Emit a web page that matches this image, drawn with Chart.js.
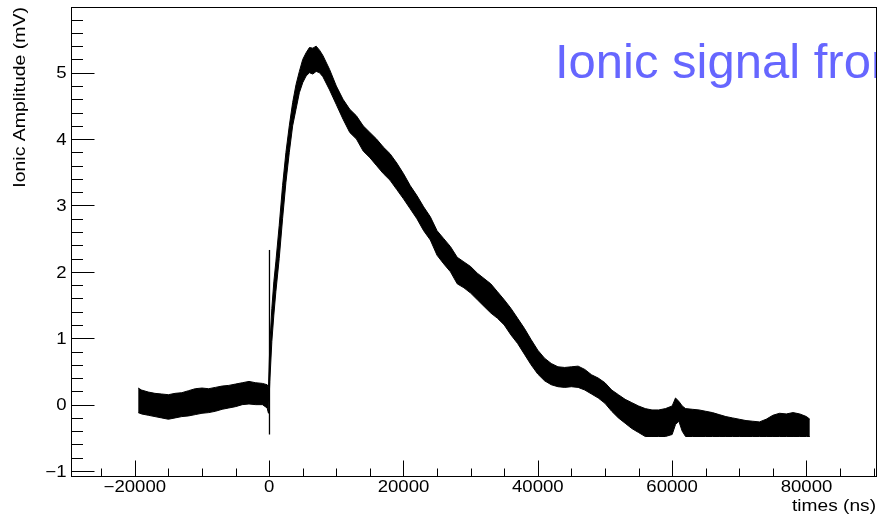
<!DOCTYPE html>
<html>
<head>
<meta charset="utf-8">
<script src="https://cdn.jsdelivr.net/npm/chart.js@4.4.1/dist/chart.umd.min.js"></script>
<style>
  html, body { margin: 0; padding: 0; background: #ffffff; }
  #wrap { width: 880px; height: 520px; }
</style>
</head>
<body>
<div id="wrap"><canvas id="c" width="880" height="520"></canvas></div>
<script>
// ---- data (time in ns, amplitude in mV) ----
const times = [
  -19500, -19000, -18000, -17000, -16000, -15000, -14000, -13000, -12000, -11000,
  -10000, -9000, -8000, -7000, -6000, -5000, -4000, -3000, -2000, -1000, -300, -100,
  100, 400, 700, 1000, 1500, 2000, 2500, 3000, 3500, 4000, 4500, 5000, 5500, 6000,
  6500, 7000, 7500, 8000, 9000, 10000, 11000, 12000, 13000, 14000, 15000, 16000,
  17000, 18000, 19000, 20000, 21000, 22000, 23000, 24000, 25000, 26000, 27000, 28000,
  29000, 30000, 31000, 32000, 33000, 34000, 35000, 36000, 37000, 38000, 39000, 40000,
  41000, 42000, 43000, 44000, 45000, 46000, 47000, 48000, 49000, 50000, 51000, 52000,
  53000, 54000, 55000, 56000, 57000, 58000, 59000, 60000, 60500, 61000, 61500, 62000,
  63000, 64000, 65000, 66000, 67000, 68000, 69000, 70000, 71000, 72000, 73000, 74000,
  75000, 76000, 77000, 78000, 79000, 80000, 80500
];
const upperEnvelope = [
  0.25, 0.22, 0.19, 0.17, 0.16, 0.15, 0.17, 0.18, 0.21, 0.24,
  0.25, 0.24, 0.26, 0.28, 0.29, 0.31, 0.33, 0.35, 0.33, 0.32, 0.30, 0.26,
  0.90, 1.45, 1.85, 2.15, 2.70, 3.30, 3.80, 4.20, 4.55, 4.82, 5.02, 5.20, 5.30, 5.38,
  5.37, 5.40, 5.34, 5.26, 5.05, 4.80, 4.60, 4.45, 4.35, 4.20, 4.10, 4.00,
  3.88, 3.78, 3.64, 3.48, 3.30, 3.15, 2.98, 2.83, 2.62, 2.50, 2.38, 2.22,
  2.15, 2.08, 1.98, 1.90, 1.82, 1.70, 1.58, 1.45, 1.30, 1.15, 0.98, 0.82,
  0.70, 0.62, 0.57, 0.56, 0.57, 0.58, 0.53, 0.45, 0.40, 0.33, 0.22, 0.15,
  0.08, 0.03, -0.02, -0.06, -0.08, -0.08, -0.06, -0.02, 0.10, 0.05, -0.02, -0.06,
  -0.07, -0.08, -0.10, -0.12, -0.15, -0.18, -0.20, -0.22, -0.24, -0.25, -0.26, -0.22,
  -0.16, -0.13, -0.14, -0.12, -0.14, -0.18, -0.22
];
const lowerEnvelope = [
  -0.12, -0.14, -0.16, -0.18, -0.20, -0.22, -0.20, -0.18, -0.17, -0.15,
  -0.13, -0.12, -0.10, -0.07, -0.05, -0.03, 0.00, 0.01, 0.00, 0.00, -0.05, -0.13,
  0.35, 0.95, 1.35, 1.70, 2.20, 2.80, 3.35, 3.80, 4.20, 4.45, 4.70, 4.85, 4.95, 5.00,
  4.98, 5.02, 5.00, 4.94, 4.74, 4.52, 4.30, 4.10, 4.00, 3.82, 3.72, 3.60,
  3.48, 3.38, 3.24, 3.10, 2.95, 2.80, 2.62, 2.48, 2.25, 2.12, 2.00, 1.82,
  1.76, 1.68, 1.58, 1.48, 1.38, 1.30, 1.20, 1.05, 0.92, 0.76, 0.60, 0.46,
  0.36, 0.30, 0.27, 0.26, 0.27, 0.26, 0.22, 0.16, 0.10, 0.02, -0.10, -0.20,
  -0.28, -0.36, -0.42, -0.48, -0.48, -0.48, -0.48, -0.45, -0.30, -0.25, -0.40, -0.48,
  -0.48, -0.48, -0.48, -0.48, -0.48, -0.48, -0.48, -0.48, -0.48, -0.48, -0.48, -0.48,
  -0.48, -0.48, -0.48, -0.48, -0.48, -0.48, -0.48
];
// trigger spike at t = 0
const spikeTimes = [50, 50];
const spikeValues = [-0.45, 2.33];

// axis ranges and tick labels
const xRange = [-29500, 90500];
const yRange = [-1.09, 5.99];
const xMajorTicks = [-20000, 0, 20000, 40000, 60000, 80000];
const yMajorTicks = [-1, 0, 1, 2, 3, 4, 5];
const xMinorStep = 5000;
const yMinorStep = 0.2;
const titleText = "Ionic signal from";
const xTitle = "times (ns)";
const yTitle = "Ionic Amplitude (mV)";

const fmt = v => (v < 0 ? "\u2212" + Math.abs(v) : String(v));

const rootStyle = {
  id: 'rootStyle',
  afterDraw(chart) {
    const ctx = chart.ctx;
    const a = chart.chartArea;
    const xs = chart.scales.x, ys = chart.scales.y;
    ctx.save();
    // frame
    ctx.strokeStyle = '#000';
    ctx.lineWidth = 1;
    ctx.strokeRect(Math.round(a.left) + 0.5, Math.round(a.top) + 0.5,
                   Math.round(a.right - a.left) - 1, Math.round(a.bottom - a.top) - 1);
    ctx.beginPath();
    // y minor/major ticks
    const L = Math.round(a.left) + 0.5;
    for (let v = -1; v <= yRange[1] + 1e-9; v += yMinorStep) {
      const vv = Math.round(v * 10) / 10;
      if (vv < yRange[0]) continue;
      const py = Math.round(ys.getPixelForValue(vv)) + 0.5;
      const major = Math.abs(vv - Math.round(vv)) < 1e-6;
      ctx.moveTo(L, py); ctx.lineTo(L + (major ? 23 : 11.5), py);
    }
    // x minor/major ticks
    const B = Math.round(a.bottom) - 0.5;
    for (let v = -25000; v <= xRange[1]; v += xMinorStep) {
      const px = Math.round(xs.getPixelForValue(v)) + 0.5;
      const major = xMajorTicks.includes(v);
      ctx.moveTo(px, B); ctx.lineTo(px, B - (major ? 16 : 8));
    }
    ctx.stroke();

    // tick labels
    ctx.fillStyle = '#000';
    ctx.font = '16px "Liberation Sans", Arial, sans-serif';
    const sx = 1.16;
    function sText(t, x, y, align) {
      ctx.save(); ctx.translate(x, y); ctx.scale(sx, 1);
      ctx.textAlign = align; ctx.textBaseline = 'alphabetic';
      ctx.fillText(t, 0, 0); ctx.restore();
    }
    yMajorTicks.forEach(v => sText(fmt(v), 66.5, ys.getPixelForValue(v) + 5.7, 'right'));
    xMajorTicks.forEach(v => sText(fmt(v), xs.getPixelForValue(v), 492.3, 'center'));
    // axis titles
    ctx.font = '16.5px "Liberation Sans", Arial, sans-serif';
    sText(xTitle, 876, 511, 'right');
    ctx.save();
    ctx.translate(25, 7);
    ctx.rotate(-Math.PI / 2);
    ctx.scale(1.18, 1);
    ctx.textAlign = 'right'; ctx.textBaseline = 'alphabetic';
    ctx.fillText(yTitle, 0, 0);
    ctx.restore();

    // title, clipped at frame
    ctx.save();
    ctx.beginPath();
    ctx.rect(0, 0, Math.round(a.right) - 1, 520);
    ctx.clip();
    ctx.fillStyle = 'rgb(102,102,255)';
    ctx.font = '49px "Liberation Sans", Arial, sans-serif';
    ctx.textAlign = 'left'; ctx.textBaseline = 'alphabetic';
    ctx.fillText(titleText, 555, 78);
    ctx.restore();
    ctx.restore();
  }
};

new Chart(document.getElementById('c'), {
  type: 'line',
  data: {
    datasets: [
      {
        label: 'upper',
        data: times.map((t, i) => ({ x: t, y: upperEnvelope[i] })),
        borderColor: '#000', backgroundColor: '#000', borderWidth: 1,
        pointRadius: 0, tension: 0, fill: '+1'
      },
      {
        label: 'lower',
        data: times.map((t, i) => ({ x: t, y: lowerEnvelope[i] })),
        borderColor: '#000', backgroundColor: '#000', borderWidth: 1,
        pointRadius: 0, tension: 0, fill: false
      },
      {
        label: 'spike',
        data: spikeTimes.map((t, i) => ({ x: t, y: spikeValues[i] })),
        borderColor: '#000', borderWidth: 1.3,
        pointRadius: 0, tension: 0, fill: false
      }
    ]
  },
  options: {
    responsive: false,
    animation: false,
    devicePixelRatio: 1,
    layout: { padding: { left: 71, top: 7, right: 3, bottom: 43 } },
    plugins: { legend: { display: false }, tooltip: { enabled: false }, title: { display: false } },
    scales: {
      x: { type: 'linear', min: xRange[0], max: xRange[1], display: false },
      y: { type: 'linear', min: yRange[0], max: yRange[1], display: false }
    }
  },
  plugins: [rootStyle]
});
</script>
</body>
</html>
